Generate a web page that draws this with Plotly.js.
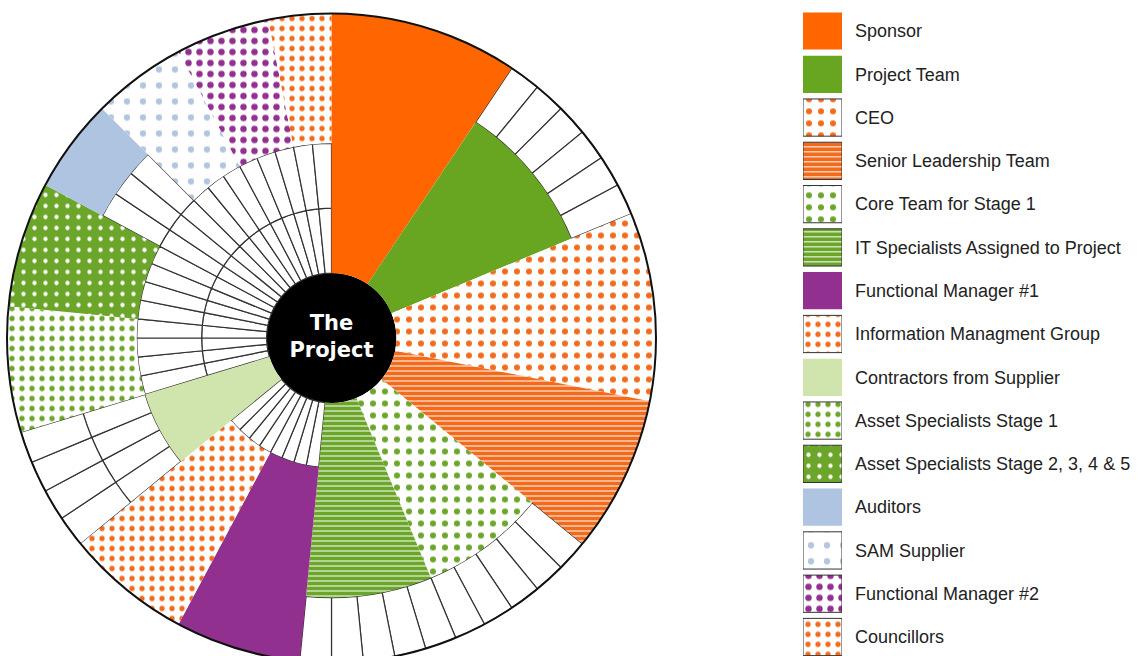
<!DOCTYPE html>
<html><head><meta charset="utf-8">
<script src="https://cdn.plot.ly/plotly-3.0.1.min.js"></script>
<style>
html,body{margin:0;padding:0;width:1140px;height:656px;overflow:hidden;background:#fff}
#chart{width:1140px;height:680px}
</style>
</head><body><div id="chart"></div>
<script>
// ---- data ----
const stakeholders = ['Sponsor','Project Team','CEO','Senior Leadership Team','Core Team for Stage 1',
  'IT Specialists Assigned to Project','Functional Manager #1','Information Managment Group',
  'Contractors from Supplier','Asset Specialists Stage 1','Asset Specialists Stage 2, 3, 4 & 5',
  'Auditors','SAM Supplier','Functional Manager #2','Councillors'];
// number of 1/64 slices each stakeholder occupies (clockwise from 12 o'clock)
const sliceCounts = [6,6,6,5,5,5,4,4,4,4,4,3,3,3,2];
// ring band occupied (ring 0-1 is the centre, ring 5 is the outer edge)
const innerRing  = [1,1,1,1,1,1,2,2,1,3,3,4,3,3,3];
const outerRing  = [5,4,5,5,4,4,5,5,3,5,5,5,5,5,5];
const totalSlices = 64;
const centreLabel = '<b>The<br>Project</b>';

// ---- styles ----
const ORANGE='#F26B1D', GREEN='#6BA62A';
const baseColor = ['#FF6600','#68A521','#ffffff',ORANGE,'#ffffff',GREEN,'#923090','#ffffff',
  '#D0E4AE','#ffffff',GREEN,'#AFC4E0','#ffffff','#ffffff','#ffffff'];
const patShape  = ['','','.','-','.','-','','.','','.','.','','.','.','.'];
const patFg     = ['','',ORANGE,'#ffffff',GREEN,'#ffffff','',ORANGE,'',GREEN,'#ffffff','','#B3C6E1','#923090',ORANGE];
const patBg     = ['','','#ffffff',ORANGE,'#ffffff',GREEN,'','#ffffff','','#ffffff',GREEN,'','#ffffff','#ffffff','#ffffff'];
const patSize   = [8,8,12,5,12,5,8,10,8,10,11,8,16,11,10];
const patSolid  = [0.3,0.3,0.2,0.2,0.2,0.2,0.3,0.22,0.3,0.22,0.12,0.3,0.12,0.27,0.22];

const deg = 360/totalSlices;
const traces = [];

function makeMarker(i, withBorder){
  const m={color:baseColor[i], line:{width:0}};
  if(patShape[i]){
    m.pattern={shape:patShape[i], fgcolor:patFg[i], bgcolor:patBg[i],
      size:patSize[i], solidity:patSolid[i], fillmode:'replace'};
    if(withBorder) m.line={color:'#333', width:1};
  }
  return m;
}

// centre disc
traces.push({type:'barpolar', subplot:'polar', theta:[0], r:[1], base:[0], width:[360],
  marker:{color:'#000', line:{width:0}}, hoverinfo:'skip', showlegend:false});

// empty cells
const cellTheta=[], cellBase=[], cellR=[];
let start=0;
for(let i=0;i<stakeholders.length;i++){
  for(let s=start;s<start+sliceCounts[i];s++){
    for(let ring=1;ring<5;ring++){
      if(ring<innerRing[i] || ring>=outerRing[i]){
        cellTheta.push((s+0.5)*deg); cellBase.push(ring); cellR.push(1);
      }
    }
  }
  start+=sliceCounts[i];
}
traces.push({type:'barpolar', subplot:'polar', theta:cellTheta, r:cellR, base:cellBase,
  width:cellTheta.map(()=>deg), marker:{color:'#fff', line:{color:'#333', width:1.2}},
  hoverinfo:'skip', showlegend:false});

// stakeholder wedges
start=0;
for(let i=0;i<stakeholders.length;i++){
  traces.push({type:'barpolar', subplot:'polar', name:stakeholders[i],
    theta:[(start+sliceCounts[i]/2)*deg], width:[sliceCounts[i]*deg],
    base:[innerRing[i]], r:[outerRing[i]-innerRing[i]], marker:makeMarker(i,false),
    hoverinfo:'name', showlegend:false});
  start+=sliceCounts[i];
}

// centre label
traces.push({type:'scatterpolar', subplot:'polar', mode:'text', r:[0], theta:[0], text:[centreLabel],
  textposition:'middle center', textfont:{family:'DejaVu Sans', size:21, color:'#fff'},
  hoverinfo:'skip', showlegend:false, cliponaxis:false});

// legend as swatch bars (one per stakeholder)
for(let i=0;i<stakeholders.length;i++){
  traces.push({type:'bar', orientation:'h', xaxis:'x', yaxis:'y', y:[stakeholders[i]],
    x:[1], width:[0.86], marker:makeMarker(i,true), hoverinfo:'skip', showlegend:false});
}

const H=680;
const layout = {
  width:1140, height:H, margin:{l:0,r:0,t:0,b:0}, paper_bgcolor:'#fff', plot_bgcolor:'rgba(0,0,0,0)',
  showlegend:false, barmode:'overlay',
  polar:{
    domain:{x:[7/1140, 656/1140], y:[1-662.5/H, 1-13.5/H]},
    bgcolor:'rgba(0,0,0,0)', barmode:'overlay', bargap:0, hole:0,
    radialaxis:{range:[0,5], visible:false, showgrid:false},
    angularaxis:{rotation:90, direction:'clockwise', type:'linear', thetaunit:'degrees',
      showgrid:false, showticklabels:false, ticks:'', showline:true, linecolor:'#111', linewidth:2}
  },
  xaxis:{domain:[803/1140, 842/1140], range:[0,1], visible:false, fixedrange:true},
  yaxis:{domain:[1-(637+21.65)/H, 1-(31-21.65)/H], type:'category', range:[14.5,-0.5],
    categoryorder:'array', categoryarray:stakeholders,
    side:'right', anchor:'x', showgrid:false, zeroline:false, showline:false, ticks:'',
    ticklabelstandoff:12, tickfont:{family:'Liberation Sans, Arial, sans-serif', size:18, color:'#222'},
    fixedrange:true}
};
Plotly.newPlot('chart', traces, layout, {staticPlot:true, displayModeBar:false});
</script>
</body></html>
